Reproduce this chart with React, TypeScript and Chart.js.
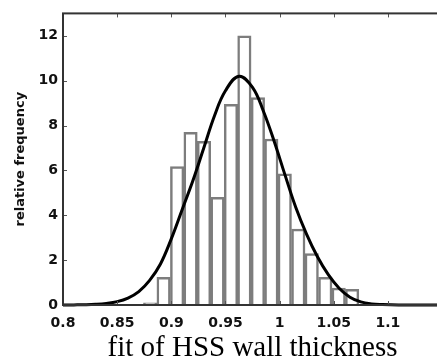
import React, { useEffect, useRef } from "react";
import { Chart, registerables } from "chart.js";

Chart.register(...registerables);

// Histogram bins (centres) and relative frequencies
const binCenters = [0.8805, 0.8929, 0.9054, 0.9178, 0.9302, 0.9427, 0.9551, 0.9675, 0.98, 0.9924, 1.0048, 1.0173, 1.0297, 1.0422, 1.0546, 1.067];
const binHeights = [0.1, 1.23, 6.17, 7.7, 7.3, 4.8, 8.95, 12.0, 9.25, 7.4, 5.85, 3.38, 2.29, 1.23, 0.75, 0.7];

// Fitted curve
const fitX = [0.8, 0.81, 0.82, 0.83, 0.84, 0.85, 0.86, 0.87, 0.88, 0.89, 0.9, 0.91, 0.92, 0.93, 0.94, 0.95, 0.9625, 0.975, 0.985, 0.995, 1.005, 1.015, 1.025, 1.035, 1.045, 1.055, 1.065, 1.075, 1.085, 1.095, 1.11, 1.13, 1.15];
const fitY = [0, 0.005, 0.012, 0.03, 0.07, 0.15, 0.31, 0.6, 1.1, 1.83, 2.95, 4.25, 5.55, 7.0, 8.45, 9.55, 10.2, 9.7, 8.65, 7.3, 5.8, 4.35, 3.15, 2.15, 1.35, 0.75, 0.35, 0.14, 0.05, 0.02, 0, 0, 0];

const xTickValues = [0.8, 0.85, 0.9, 0.95, 1.0, 1.05, 1.1];
const xTickLabels = ["0.8", "0.85", "0.9", "0.95", "1", "1.05", "1.1"];
const yTickValues = [0, 2, 4, 6, 8, 10, 12];
const yTickLabels = ["0", "2", "4", "6", "8", "10", "12"];

const xTitle = "fit of HSS wall thickness";
const yTitle = "relative frequency";

const framePlugin = {
  id: "frame",
  afterDatasetsDraw(chart: any) {
    const { ctx, chartArea, scales } = chart;
    const { left, top, right, bottom } = chartArea;
    ctx.save();
    ctx.strokeStyle = "#555";
    ctx.lineWidth = 1;
    ctx.beginPath();
    for (const v of xTickValues) {
      const x = Math.round(scales.x.getPixelForValue(v)) + 0.5;
      ctx.moveTo(x, bottom);
      ctx.lineTo(x, bottom - 4);
      ctx.moveTo(x, top);
      ctx.lineTo(x, top + 4);
    }
    for (const v of yTickValues) {
      const y = Math.round(scales.y.getPixelForValue(v)) + 0.5;
      ctx.moveTo(left, y);
      ctx.lineTo(left + 4, y);
      ctx.moveTo(right, y);
      ctx.lineTo(right - 4, y);
    }
    ctx.stroke();
    ctx.strokeStyle = "#333";
    ctx.lineWidth = 2;
    ctx.strokeRect(left, top, right - left, bottom - top);
    ctx.restore();
  },
};

export default function App() {
  const ref = useRef<HTMLCanvasElement | null>(null);

  useEffect(() => {
    const canvas = ref.current;
    if (!canvas) return;
    const chart = new Chart(canvas, {
      type: "bar",
      data: {
        datasets: [
          {
            type: "line",
            data: fitX.map((x, i) => ({ x, y: fitY[i] })),
            borderColor: "#000",
            borderWidth: 3,
            pointRadius: 0,
            tension: 0.4,
            fill: false,
            clip: false,
            order: 1,
          } as any,
          {
            type: "bar",
            data: binCenters.map((x, i) => ({ x, y: binHeights[i] })),
            backgroundColor: "#ffffff",
            borderColor: "#7d7d7d",
            borderWidth: 2.5,
            borderSkipped: "start",
            barPercentage: 1,
            categoryPercentage: 1,
            order: 2,
          } as any,
        ],
      },
      options: {
        responsive: false,
        animation: false,
        events: [],
        layout: { padding: { top: 10, right: 2, left: 0, bottom: 0 } },
        plugins: { legend: { display: false }, tooltip: { enabled: false } },
        scales: {
          x: {
            type: "linear",
            min: 0.8,
            max: 1.15,
            offset: false,
            afterFit: (s: any) => {
              s.height = 59;
            },
            afterBuildTicks: (s: any) => {
              s.ticks = xTickValues.map((v) => ({ value: v }));
            },
            grid: { display: false, drawTicks: false },
            border: { display: false },
            ticks: {
              padding: 10,
              autoSkip: false,
              maxRotation: 0,
              color: "#111",
              font: { family: "DejaVu Sans", size: 14, weight: "bold" },
              callback: (v: any) => {
                const i = xTickValues.findIndex((t) => Math.abs(t - v) < 1e-9);
                return i >= 0 ? xTickLabels[i] : "";
              },
            },
            title: {
              display: true,
              text: xTitle,
              color: "#000",
              font: { family: "Liberation Serif", size: 29, lineHeight: 1.0 },
              padding: { top: 0, bottom: 1 },
            },
          },
          y: {
            type: "linear",
            min: 0,
            max: 13,
            afterFit: (s: any) => {
              s.width = 63;
            },
            afterBuildTicks: (s: any) => {
              s.ticks = yTickValues.map((v) => ({ value: v }));
            },
            grid: { display: false, drawTicks: false },
            border: { display: false },
            ticks: {
              padding: 5,
              color: "#111",
              font: { family: "DejaVu Sans", size: 14, weight: "bold" },
              callback: (v: any) => {
                const i = yTickValues.indexOf(v);
                return i >= 0 ? yTickLabels[i] : "";
              },
            },
            title: {
              display: true,
              text: yTitle,
              color: "#111",
              font: { family: "DejaVu Sans", size: 13, weight: "bold", lineHeight: 1.2 },
              padding: { top: 13, bottom: 0 },
            },
          },
        },
      },
      plugins: [framePlugin],
    });
    return () => chart.destroy();
  }, []);

  return (
    <div
      style={{
        position: "fixed",
        left: 0,
        top: 0,
        width: 437,
        height: 364,
        overflow: "hidden",
        background: "#fff",
      }}
    >
      <canvas ref={ref} width={444} height={364} style={{ display: "block" }} />
    </div>
  );
}
